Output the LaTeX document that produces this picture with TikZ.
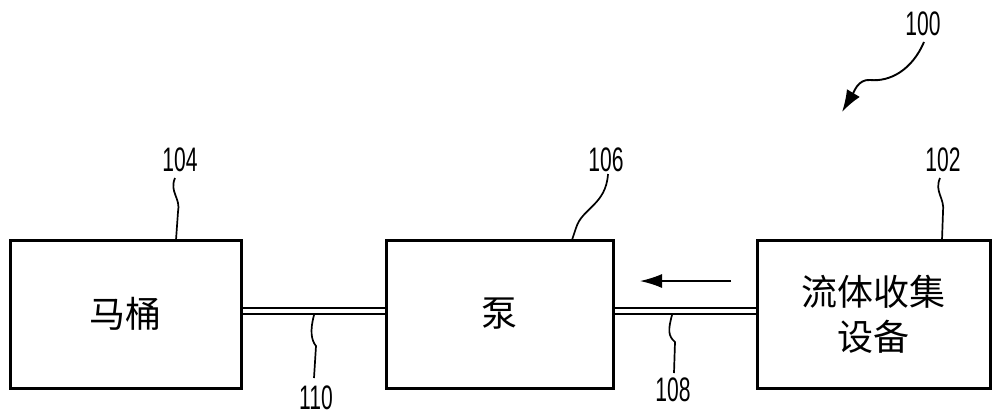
\documentclass[tikz,border=0pt]{standalone}
\usepackage{fontspec}
\newfontfamily\cjk{Noto Sans CJK SC}
\newfontfamily\numfont[FakeStretch=0.62]{Liberation Sans}
\usetikzlibrary{arrows.meta}
\begin{document}
\begin{tikzpicture}[x=1pt,y=-1pt,
  blockbox/.style={draw=black,line width=3pt,minimum width=#1,minimum height=148pt,inner sep=0pt,font=\cjk\fontsize{36}{45}\selectfont,align=center},
  reflabel/.style={font=\numfont\fontsize{34}{34}\selectfont,inner sep=0pt},
  leader/.style={draw=black,line width=1.7pt},
  pipe/.style={draw=black,line width=1.8pt}]
\useasboundingbox (0,0) rectangle (1000,416);
\node[blockbox=231pt] (toilet) at (125.5,314) {马桶};
\node[blockbox=227pt] (pump) at (499.5,314) {泵};
\node[blockbox=233pt] (collect) at (873.5,314) {流体收集\\设备};
% pipes
\draw[pipe] (toilet.east |- 0,308) -- (pump.west |- 0,308);
\draw[pipe] (toilet.east |- 0,314) -- (pump.west |- 0,314);
\draw[pipe] (pump.east |- 0,308) -- (collect.west |- 0,308);
\draw[pipe] (pump.east |- 0,314) -- (collect.west |- 0,314);
% flow arrow
\coordinate (fa1) at (731,281);
\coordinate (fa2) at (640,281);
\draw[line width=1.4pt,-{Latex[length=22pt,width=14pt]}] (fa1) -- (fa2);
% labels
\node[reflabel] (l100) at (923,24) {100};
\node[reflabel] (l104) at (180,160) {104};
\node[reflabel] (l106) at (606,160) {106};
\node[reflabel] (l102) at (943,160) {102};
\node[reflabel] (l110) at (316,398) {110};
\node[reflabel] (l108) at (673,390) {108};
% leaders
\coordinate (t104) at (176,240);
\draw[leader] (175,178) .. controls (169,192) and (181,198) .. (178,212) -- (t104);
\coordinate (t106) at (572,240);
\draw[leader] (608,174) .. controls (606,205) and (582,208) .. (576,228) -- (t106);
\coordinate (t102) at (942,240);
\draw[leader] (940,178) .. controls (934,192) and (945,198) .. (943,212) -- (t102);
\coordinate (s110) at (314,315);
\draw[leader] (s110) .. controls (310,330) and (311,340) .. (316,346) -- (314,378);
\coordinate (s108) at (672,315);
\draw[leader] (s108) .. controls (668,330) and (668,336) .. (675,342) -- (674,373);
\coordinate (t100) at (842,112);
\draw[line width=1.9pt,-{Latex[length=22pt,width=15pt]}] (924,42) .. controls (912,70) and (890,82) .. (870,80) .. controls (858,79) and (854,92) .. (t100);
\end{tikzpicture}
\end{document}
